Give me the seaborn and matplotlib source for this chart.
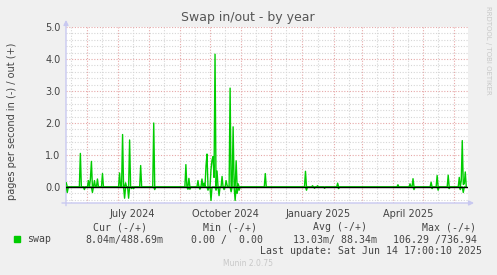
import numpy as np
import pandas as pd
import matplotlib
matplotlib.use("Agg")
import matplotlib.pyplot as plt
import matplotlib.dates as mdates
import matplotlib.ticker as mticker
import seaborn as sns

# ---- data, pages per second ----
out_dates = ["2024-05-11", "2024-05-25", "2024-06-02", "2024-06-04", "2024-06-05",
             "2024-06-08", "2024-06-11", "2024-06-16", "2024-07-03", "2024-07-06",
             "2024-07-09", "2024-07-13", "2024-07-24", "2024-08-06", "2024-09-07",
             "2024-09-10", "2024-09-19", "2024-09-23", "2024-09-25", "2024-09-27",
             "2024-09-28", "2024-10-02", "2024-10-03", "2024-10-04", "2024-10-05",
             "2024-10-06", "2024-10-08", "2024-10-13", "2024-10-17", "2024-10-18",
             "2024-10-21", "2024-10-24", "2024-10-27", "2024-10-29", "2024-11-25",
             "2025-01-04", "2025-01-11", "2025-01-16", "2025-02-05", "2025-04-06",
             "2025-04-18", "2025-04-21", "2025-05-09", "2025-05-15", "2025-05-26",
             "2025-06-06", "2025-06-08", "2025-06-09", "2025-06-10", "2025-06-11",
             "2025-06-12"]
out_vals = [0.13, 1.05, 0.20, 0.25, 0.80,
            0.20, 0.25, 0.42, 0.44, 1.64,
            0.13, 1.47, 0.67, 2.00, 0.70,
            0.27, 0.20, 0.25, 0.12, 0.65,
            1.03, 0.55, 0.84, 0.95, 0.30,
            4.15, 0.50, 0.33, 0.20, 0.05,
            3.09, 1.88, 0.82, 0.10, 0.42,
            0.49, 0.04, 0.04, 0.12, 0.07,
            0.10, 0.26, 0.15, 0.36, 0.37,
            0.30, 0.20, 1.45, 0.08, 0.10,
            0.47]
in_dates = ["2024-05-12", "2024-05-29", "2024-06-06", "2024-07-08", "2024-07-12",
            "2024-07-15", "2024-07-17", "2024-08-07", "2024-09-09", "2024-09-11",
            "2024-09-21", "2024-09-29", "2024-10-02", "2024-10-07", "2024-10-10",
            "2024-10-15", "2024-10-22", "2024-10-26", "2024-10-28", "2024-10-30",
            "2025-01-05", "2025-01-13", "2025-01-23", "2025-02-06", "2025-04-22",
            "2025-05-10", "2025-05-16", "2025-05-27", "2025-06-07", "2025-06-10"]
in_vals = [0.17, 0.08, 0.17, 0.35, 0.35,
           0.05, 0.05, 0.08, 0.07, 0.07,
           0.07, 0.10, 0.42, 0.10, 0.27,
           0.08, 0.15, 0.42, 0.20, 0.10,
           0.10, 0.04, 0.04, 0.05, 0.08,
           0.05, 0.10, 0.05, 0.08, 0.17]

x_labels = ["July 2024", "October 2024", "January 2025", "April 2025"]
legend_name = "swap"
cur_txt, min_txt, avg_txt, max_txt = "8.04m/488.69m", "0.00 /  0.00", "13.03m/ 88.34m", "106.29 /736.94"
last_update = "Last update: Sat Jun 14 17:00:10 2025"

# ---- build daily series (baseline is zero between the readings) ----
days = pd.date_range("2024-05-11", "2025-06-13", freq="D")
out_s = pd.Series(0.0, index=days)
out_s.loc[pd.to_datetime(out_dates)] = out_vals
in_s = pd.Series(0.0, index=days)
in_s.loc[pd.to_datetime(in_dates)] = in_vals
df = pd.DataFrame({"date": days, "out": out_s.values, "in": -in_s.values})

# ---- figure ----
W, H = 497, 275
fig = plt.figure(figsize=(W / 100, H / 100), dpi=100, facecolor="#F0F0F0")
L, R, T, B = 66, 468, 27, 203
ax = fig.add_axes([L / W, 1 - B / H, (R - L) / W, (B - T) / H])
ax.set_facecolor("white")

green = "#00CC00"
sns.lineplot(data=df, x="date", y="out", ax=ax, color=green, lw=1.0, zorder=4)
sns.lineplot(data=df, x="date", y="in", ax=ax, color=green, lw=1.0, zorder=4)
ax.axhline(0, color="black", lw=1.0, zorder=5)

ax.set_xlim(pd.Timestamp("2024-05-10 17:00"), pd.Timestamp("2025-06-14 17:00"))
ax.set_ylim(-0.5, 5.0)

red = "#E6A8A8"
gray = "#D6D6D6"
ax.xaxis.set_major_locator(mdates.MonthLocator(bymonthday=1))
ax.xaxis.set_minor_locator(mdates.MonthLocator(bymonthday=16))
ax.xaxis.set_major_formatter(mticker.NullFormatter())
lab_map = {7: x_labels[0], 10: x_labels[1], 1: x_labels[2], 4: x_labels[3]}
ax.xaxis.set_minor_formatter(mticker.FuncFormatter(
    lambda v, p: lab_map.get(mdates.num2date(v).month, "")))
ax.yaxis.set_major_locator(mticker.MultipleLocator(1.0))
ax.yaxis.set_minor_locator(mticker.MultipleLocator(0.2))
ax.yaxis.set_major_formatter(mticker.FormatStrFormatter("%.1f"))

ax.grid(which="major", color=red, lw=0.8, ls=(0, (1, 1.5)), zorder=1)
ax.grid(which="minor", color=gray, lw=0.8, ls=(0, (1, 1.5)), zorder=0)
ax.set_axisbelow(True)
ax.tick_params(which="both", length=0, colors="#444444", labelsize=7)
ax.tick_params(axis="x", which="minor", pad=4)
ax.tick_params(axis="y", pad=4)
for s in ax.spines.values():
    s.set_visible(False)
ax.set_xlabel("")
ax.set_ylabel("")

# axis arrows
acol = "#C8C8F0"
ax.annotate("", xy=(0, 1.04), xytext=(0, -0.015), xycoords="axes fraction",
            arrowprops=dict(arrowstyle="-|>", color=acol, lw=1, mutation_scale=7,
                            shrinkA=0, shrinkB=0), annotation_clip=False)
ax.annotate("", xy=(1.015, 0), xytext=(-0.01, 0), xycoords="axes fraction",
            arrowprops=dict(arrowstyle="-|>", color=acol, lw=1, mutation_scale=7,
                            shrinkA=0, shrinkB=0), annotation_clip=False)

# texts
fig.text(248 / W, 1 - 18 / H, "Swap in/out - by year", ha="center", va="center",
         fontsize=9, color="#555555")
fig.text(12 / W, 1 - 121 / H, "pages per second in (-) / out (+)", rotation=90,
         ha="center", va="center", fontsize=7, color="#444444")
fig.text(488 / W, 1 - 6 / H, "RRDTOOL / TOBI OETIKER", rotation=270, ha="center",
         va="top", fontsize=5, color="#C8C8C8")

mono = dict(family="DejaVu Sans Mono", fontsize=7.1, color="#444444", va="center")
y1, y2, y3 = 1 - 227.5 / H, 1 - 239.5 / H, 1 - 251.5 / H
for right, hdr in [(147, "Cur (-/+)"), (257, "Min (-/+)"), (367, "Avg (-/+)"), (476, "Max (-/+)")]:
    fig.text(right / W, y1, hdr, ha="right", **mono)
for right, val in [(163, cur_txt), (263, min_txt), (377, avg_txt), (477, max_txt)]:
    fig.text(right / W, y2, val, ha="right", **mono)
fig.text(27 / W, y2, legend_name, ha="left", **mono)
fig.text(482 / W, y3, last_update, ha="right", **mono)
fig.patches.append(plt.Rectangle((14 / W, 1 - 242 / H), 6 / W, 6 / H, color=green,
                                 transform=fig.transFigure, figure=fig))
fig.text(248 / W, 1 - 264 / H, "Munin 2.0.75", ha="center", va="center",
         fontsize=5.5, color="#C8C8C8")

fig.savefig("out.png", dpi=100, facecolor=fig.get_facecolor())
